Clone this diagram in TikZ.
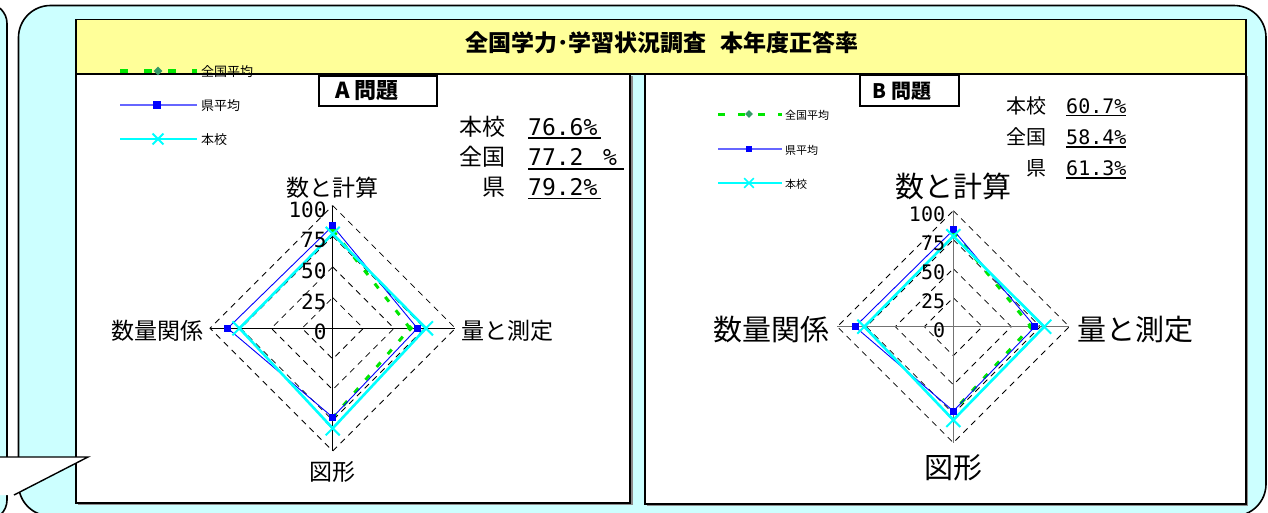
\documentclass[tikz,border=0pt]{standalone}
\usepackage{fontspec}
\setmainfont{Noto Sans CJK JP}
\newfontfamily\monof{DejaVu Sans Mono}
\usetikzlibrary{shapes.geometric,shapes.misc}
\definecolor{bgcyan}{HTML}{CCFFFF}
\definecolor{titley}{HTML}{FFFF99}
\definecolor{sercyan}{HTML}{00FFFF}
\definecolor{serblue}{HTML}{0000FF}
\definecolor{legblue}{HTML}{6666FF}
\definecolor{sergreen}{HTML}{00E600}
\definecolor{dkgreen}{HTML}{339966}
\newcommand\fs[1]{\fontsize{#1}{#1}\selectfont}
\newcommand\serdraw[5]{\draw[#1] (0,{-#2*\R/100}) -- ({#3*\R/100},0) -- (0,{#4*\R/100}) -- ({-#5*\R/100},0) -- cycle;}
\newcommand\seropen[4]{\draw[#1] (0,{-#2*\R/100}) -- ({#3*\R/100},0) -- (0,{#4*\R/100});}
\newcommand\sermark[6]{%
  \node[#1] (#2t) at (0,{-#3*\R/100}) {};
  \node[#1] (#2r) at ({#4*\R/100},0) {};
  \node[#1] (#2b) at (0,{#5*\R/100}) {};
  \node[#1] (#2l) at ({-#6*\R/100},0) {};}
\begin{document}
\begin{tikzpicture}[x=1pt,y=-1pt,
  framebox/.style={draw=black,line width=1.6pt,fill=bgcyan},
  panelbox/.style={fill=white,draw=black,line width=1.3pt},
  shadowbox/.style={fill=black!45},
  gridl/.style={black,dash pattern=on 6pt off 5pt,line width=0.8pt},
  gser/.style={sergreen,line width=3pt,dash pattern=on 6pt off 11pt},
  bser/.style={serblue,line width=0.9pt},
  cser/.style={sercyan,line width=2.6pt},
  bmark/.style={rectangle,fill=serblue,inner sep=0pt,minimum size=7pt},
  cmark/.style={cross out,draw=sercyan,line width=2pt,inner sep=0pt,minimum size=12pt},
  gmark/.style={diamond,fill=sergreen,inner sep=0pt,minimum size=7pt},
  lbl/.style={inner sep=0pt},
  uline/.style={line width=1.8pt},
]
\useasboundingbox (0,0) rectangle (1268,512);
\fill[white] (0,0) rectangle (1268,512);
% outer shapes
\draw[framebox,rounded corners=20pt] (-60,3.5) rectangle (7,520);
\draw[framebox,rounded corners=32pt] (18.5,5.5) rectangle (1266,516);
% panels
\fill[shadowbox] (78,76) rectangle (632.5,505);
\draw[panelbox] (76,74) rectangle (630,503);
\fill[shadowbox] (647,76) rectangle (1248,506);
\draw[panelbox] (645,74) rectangle (1246,504);
% title bar
\draw[fill=titley,draw=black,line width=1.2pt] (76,19.5) rectangle (1246,74);
\node[lbl,font=\fs{23}\bfseries] (title) at (662,43) {全国学力･学習状況調査\hspace{0.6em}本年度正答率};
% problem boxes
\draw[fill=white,draw=black,line width=1.3pt] (319,76) rectangle (437,106);
\node[lbl,font=\fs{22}\bfseries] (Abox) at (367,91) {A 問題};
\draw[fill=white,draw=black,line width=1.3pt] (860,75) rectangle (959,106);
\node[lbl,font=\fs{20}\bfseries] (Bbox) at (902,91.5) {B 問題};

% ---------------- chart A
\begin{scope}[shift={(332.7,328.3)}]
  \def\R{122.7}
  \foreach \k in {1,2,3,4}{
    \draw[gridl] (0,{-\k*\R/4}) -- ({\k*\R/4},0) -- (0,{\k*\R/4}) -- ({-\k*\R/4},0) -- cycle;}
  \draw[line width=0.9pt,black] (0,-\R) -- (0,\R) (-\R,0) -- (\R,0);
  \seropen{gser}{80}{63}{73}
  \serdraw{bser}{83.4}{69}{72.5}{85.6}
  \serdraw{cser}{77}{76}{81.5}{76}
  \node[gmark] (Agt) at (0,{-80*\R/100}) {};
  \node[gmark] (Agr) at ({63*\R/100},0) {};
  \node[gmark] (Agb) at (0,{73*\R/100}) {};
  \sermark{bmark}{Ab}{83.4}{69}{72.5}{85.6}
  \sermark{cmark}{Ac}{77}{76}{81.5}{76}
  \foreach \v in {0,25,50,75,100}{
    \node[lbl,anchor=east,font=\monof\fs{21}] (As\v) at (-6,{-\v*\R/100+4}) {\v};}
  \node[lbl,font=\fs{23}] (AL1) at (0,-141) {数と計算};
  \node[lbl,font=\fs{23},anchor=west] (AL2) at (129,2.5) {量と測定};
  \node[lbl,font=\fs{23},anchor=east] (AL3) at (-129,2.5) {数量関係};
  \node[lbl,font=\fs{23}] (AL4) at (0,144) {図形};
\end{scope}

% ---------------- chart B
\begin{scope}[shift={(953.3,326.7)}]
  \def\R{116}
  \foreach \k in {1,2,3,4}{
    \draw[gridl] (0,{-\k*\R/4}) -- ({\k*\R/4},0) -- (0,{\k*\R/4}) -- ({-\k*\R/4},0) -- cycle;}
  \draw[line width=0.9pt,black!55] (0,-\R) -- (0,\R) (-\R,0) -- (\R,0);
  \seropen{gser}{82}{67}{73}
  \serdraw{bser}{83.4}{70.4}{72.7}{84.7}
  \serdraw{cser}{78}{78.4}{80.4}{76.7}
  \node[gmark] (Bgt) at (0,{-82*\R/100}) {};
  \node[gmark] (Bgr) at ({67*\R/100},0) {};
  \node[gmark] (Bgb) at (0,{73*\R/100}) {};
  \sermark{bmark}{Bb}{83.4}{70.4}{72.7}{84.7}
  \sermark{cmark}{Bc}{78}{78.4}{80.4}{76.7}
  \foreach \v in {0,25,50,75,100}{
    \node[lbl,anchor=east,font=\monof\fs{20}] (Bs\v) at (-8,{-\v*\R/100+4}) {\v};}
  \node[lbl,font=\fs{29}] (BL1) at (0,-140) {数と計算};
  \node[lbl,font=\fs{29},anchor=west] (BL2) at (124,3) {量と測定};
  \node[lbl,font=\fs{29},anchor=east] (BL3) at (-124,3) {数量関係};
  \node[lbl,font=\fs{29}] (BL4) at (0,141) {図形};
\end{scope}

% ---------------- legend A
\draw[sergreen,line width=3.5pt,dash pattern=on 8pt off 16pt] (120,71) -- (197,71);
\node[diamond,fill=dkgreen,inner sep=0pt,minimum size=9pt] (LAg) at (158,71) {};
\node[lbl,anchor=west,font=\fs{13}] (LAgt) at (201,72) {全国平均};
\draw[legblue,line width=1.2pt] (120,105) -- (197,105);
\node[bmark,minimum size=8pt] (LAb) at (157,105) {};
\node[lbl,anchor=west,font=\fs{13}] (LAbt) at (201,106) {県平均};
\draw[sercyan,line width=2pt] (120,139) -- (197,139);
\node[cross out,draw=sercyan,line width=1.8pt,inner sep=0pt,minimum size=9pt] (LAc) at (158,139) {};
\node[lbl,anchor=west,font=\fs{13}] (LAct) at (201,140) {本校};

% ---------------- legend B
\draw[sergreen,line width=3pt,dash pattern=on 7pt off 13pt] (718,114) -- (782,114);
\node[diamond,fill=dkgreen,inner sep=0pt,minimum size=8pt] (LBg) at (749,114) {};
\node[lbl,anchor=west,font=\fs{11}] (LBgt) at (785,115) {全国平均};
\draw[legblue,line width=1.1pt] (718,149) -- (782,149);
\node[bmark,minimum size=6.5pt] (LBb) at (749,149) {};
\node[lbl,anchor=west,font=\fs{11}] (LBbt) at (785,150) {県平均};
\draw[sercyan,line width=1.8pt] (718,183) -- (782,183);
\node[cross out,draw=sercyan,line width=1.6pt,inner sep=0pt,minimum size=8pt] (LBc) at (749,183) {};
\node[lbl,anchor=west,font=\fs{11}] (LBct) at (785,184) {本校};

% ---------------- stats A
\node[lbl,anchor=base east,font=\fs{23}] (SA1) at (506,135) {本校};
\node[lbl,anchor=base east,font=\fs{23}] (SA2) at (506,165.5) {全国};
\node[lbl,anchor=base east,font=\fs{23}] (SA3) at (506,195.5) {県};
\node[lbl,anchor=base west,font=\monof\fs{23}] (NA1) at (528,135) {76.6\%};
\node[lbl,anchor=base west,font=\monof\fs{23}] (NA2) at (528,165.5) {77.2};
\node[lbl,anchor=base west,font=\monof\fs{23}] (NA2p) at (603,165.5) {\%};
\node[lbl,anchor=base west,font=\monof\fs{23}] (NA3) at (528,195.5) {79.2\%};
\draw[uline] (528,138) -- (601,138);
\draw[uline] (528,169) -- (624,169);
\draw[uline] (528,198.5) -- (601,198.5);

% ---------------- stats B
\node[lbl,anchor=base east,font=\fs{20}] (SB1) at (1047,113) {本校};
\node[lbl,anchor=base east,font=\fs{20}] (SB2) at (1047,144.5) {全国};
\node[lbl,anchor=base east,font=\fs{20}] (SB3) at (1047,175.5) {県};
\node[lbl,anchor=base west,font=\monof\fs{20}] (NB1) at (1066,113) {60.7\%};
\node[lbl,anchor=base west,font=\monof\fs{20}] (NB2) at (1066,144.5) {58.4\%};
\node[lbl,anchor=base west,font=\monof\fs{20}] (NB3) at (1066,175.5) {61.3\%};
\draw[uline] (1066,115.5) -- (1126,115.5);
\draw[uline] (1066,147) -- (1126,147);
\draw[uline] (1066,178) -- (1126,178);

% ---------------- callout pointer (bottom left)
\fill[white] (-1,457) -- (88,457) -- (14,495) -- (-1,495) -- cycle;
\draw[line width=1.4pt] (-1,457) -- (88,457) -- (14,495);
\end{tikzpicture}
\end{document}
